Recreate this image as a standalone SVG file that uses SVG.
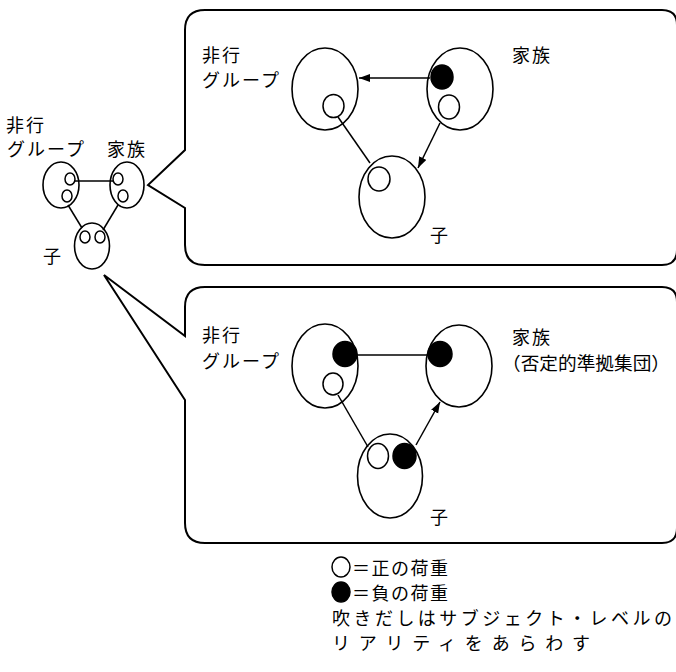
<svg xmlns="http://www.w3.org/2000/svg" width="676" height="672" viewBox="0 0 676 672">
<defs>
<style>
.l{font-family:"Noto Sans CJK JP","Noto Sans CJK SC",sans-serif;font-size:18px;fill:#000;letter-spacing:2px}
.g{font-family:"Noto Sans CJK JP","Noto Sans CJK SC",sans-serif;font-size:18px;fill:#000}
.e{fill:none;stroke:#000;stroke-width:1.6}
.o{fill:#fff;stroke:#000;stroke-width:1.5}
.f{fill:#000;stroke:#000;stroke-width:1.5}
.c{fill:none;stroke:#000;stroke-width:1.5}
.b{fill:none;stroke:#000;stroke-width:2}
</style>
<marker id="ah" markerUnits="userSpaceOnUse" markerWidth="12" markerHeight="10" refX="11" refY="4" orient="auto">
<path d="M0,0 L11,4 L0,8 z" fill="#000"/>
</marker>
</defs>
<rect width="676" height="672" fill="#fff"/>

<g id="callouts">
<path id="callout-top" class="b" d="M205,10 L662,10 Q677,10 677,25 L677,250 Q677,265 662,265 L205,265 Q185,265 185,245 L185,208 L148,185 L185,150 L185,30 Q185,10 205,10 Z"/>
<path id="callout-bottom" class="b" d="M205,287 L662,287 Q677,287 677,302 L677,528 Q677,543 662,543 L205,543 Q185,543 185,523 L185,400 L104,275 L185,336 L185,307 Q185,287 205,287 Z"/>
</g>

<g id="connectors">
<line class="c" x1="75" y1="181" x2="113" y2="181"/>
<line class="c" x1="68" y1="205" x2="82" y2="228"/>
<line class="c" x1="118" y1="205" x2="103" y2="230"/>
<line class="c" x1="430" y1="78" x2="359" y2="78" marker-end="url(#ah)"/>
<line class="c" x1="338" y1="117" x2="370" y2="163"/>
<line class="c" x1="440" y1="123" x2="418" y2="168" marker-end="url(#ah)"/>
<line class="c" x1="357" y1="355" x2="428" y2="355"/>
<line class="c" x1="338" y1="395" x2="368" y2="447"/>
<line class="c" x1="416" y1="445" x2="440" y2="402" marker-end="url(#ah)"/>
</g>

<g id="small-group">
<ellipse class="e" cx="61" cy="185" rx="18" ry="23"/>
<ellipse class="o" cx="70" cy="179" rx="5" ry="6"/>
<ellipse class="o" cx="67" cy="196" rx="5" ry="6"/>
<text class="l" x="6" y="132">非行</text>
<text class="l" x="7" y="156">グループ</text>
</g>
<g id="small-family">
<ellipse class="e" cx="127" cy="185" rx="17" ry="23"/>
<ellipse class="o" cx="118" cy="179" rx="5" ry="6"/>
<ellipse class="o" cx="123" cy="196" rx="5" ry="6"/>
<text class="l" x="107" y="156">家族</text>
</g>
<g id="small-child">
<ellipse class="e" cx="92" cy="246" rx="17.5" ry="23"/>
<ellipse class="o" cx="85" cy="237" rx="5" ry="6"/>
<ellipse class="o" cx="100" cy="237" rx="5" ry="6"/>
<text class="l" x="43" y="263">子</text>
</g>

<g id="top-group">
<ellipse class="e" cx="325" cy="89" rx="33" ry="41"/>
<ellipse class="o" cx="333.5" cy="106" rx="10.5" ry="11.5"/>
<text class="l" x="202" y="62">非行</text>
<text class="l" x="202" y="87">グループ</text>
</g>
<g id="top-family">
<ellipse class="e" cx="460" cy="89" rx="33" ry="41"/>
<ellipse class="f" cx="442" cy="77" rx="11" ry="12"/>
<ellipse class="o" cx="449" cy="107" rx="10.5" ry="12"/>
<text class="l" x="512" y="62">家族</text>
</g>
<g id="top-child">
<ellipse class="e" cx="392" cy="197" rx="33" ry="41"/>
<ellipse class="o" cx="379" cy="179" rx="11" ry="12"/>
<text class="l" x="430" y="242">子</text>
</g>

<g id="bottom-group">
<ellipse class="e" cx="325" cy="366" rx="33" ry="42"/>
<ellipse class="f" cx="345" cy="354" rx="12" ry="12.5"/>
<ellipse class="o" cx="333" cy="384" rx="10" ry="11"/>
<text class="l" x="202" y="342">非行</text>
<text class="l" x="202" y="368">グループ</text>
</g>
<g id="bottom-family">
<ellipse class="e" cx="459" cy="366" rx="33" ry="41"/>
<ellipse class="f" cx="440" cy="354" rx="12" ry="12.5"/>
<text class="l" x="512" y="344">家族</text>
<text class="l" x="502" y="370" textLength="168" lengthAdjust="spacingAndGlyphs" style="letter-spacing:0">（否定的準拠集団）</text>
</g>
<g id="bottom-child">
<ellipse class="e" cx="390" cy="476" rx="32.5" ry="42"/>
<ellipse class="o" cx="378" cy="456" rx="10.5" ry="12.5"/>
<ellipse class="f" cx="404.5" cy="456" rx="11.5" ry="12.5"/>
<text class="l" x="430" y="524">子</text>
</g>

<g id="legend">
<ellipse class="o" cx="341" cy="567" rx="9" ry="10"/>
<text class="g" x="352" y="575" textLength="96">＝正の荷重</text>
<ellipse class="f" cx="341" cy="592" rx="9" ry="10"/>
<text class="g" x="352" y="600" textLength="96">＝負の荷重</text>
<text class="g" x="332" y="625" textLength="340">吹きだしはサブジェクト・レベルの</text>
<text class="g" x="332" y="650" textLength="258">リアリティをあらわす</text>
</g>
</svg>
